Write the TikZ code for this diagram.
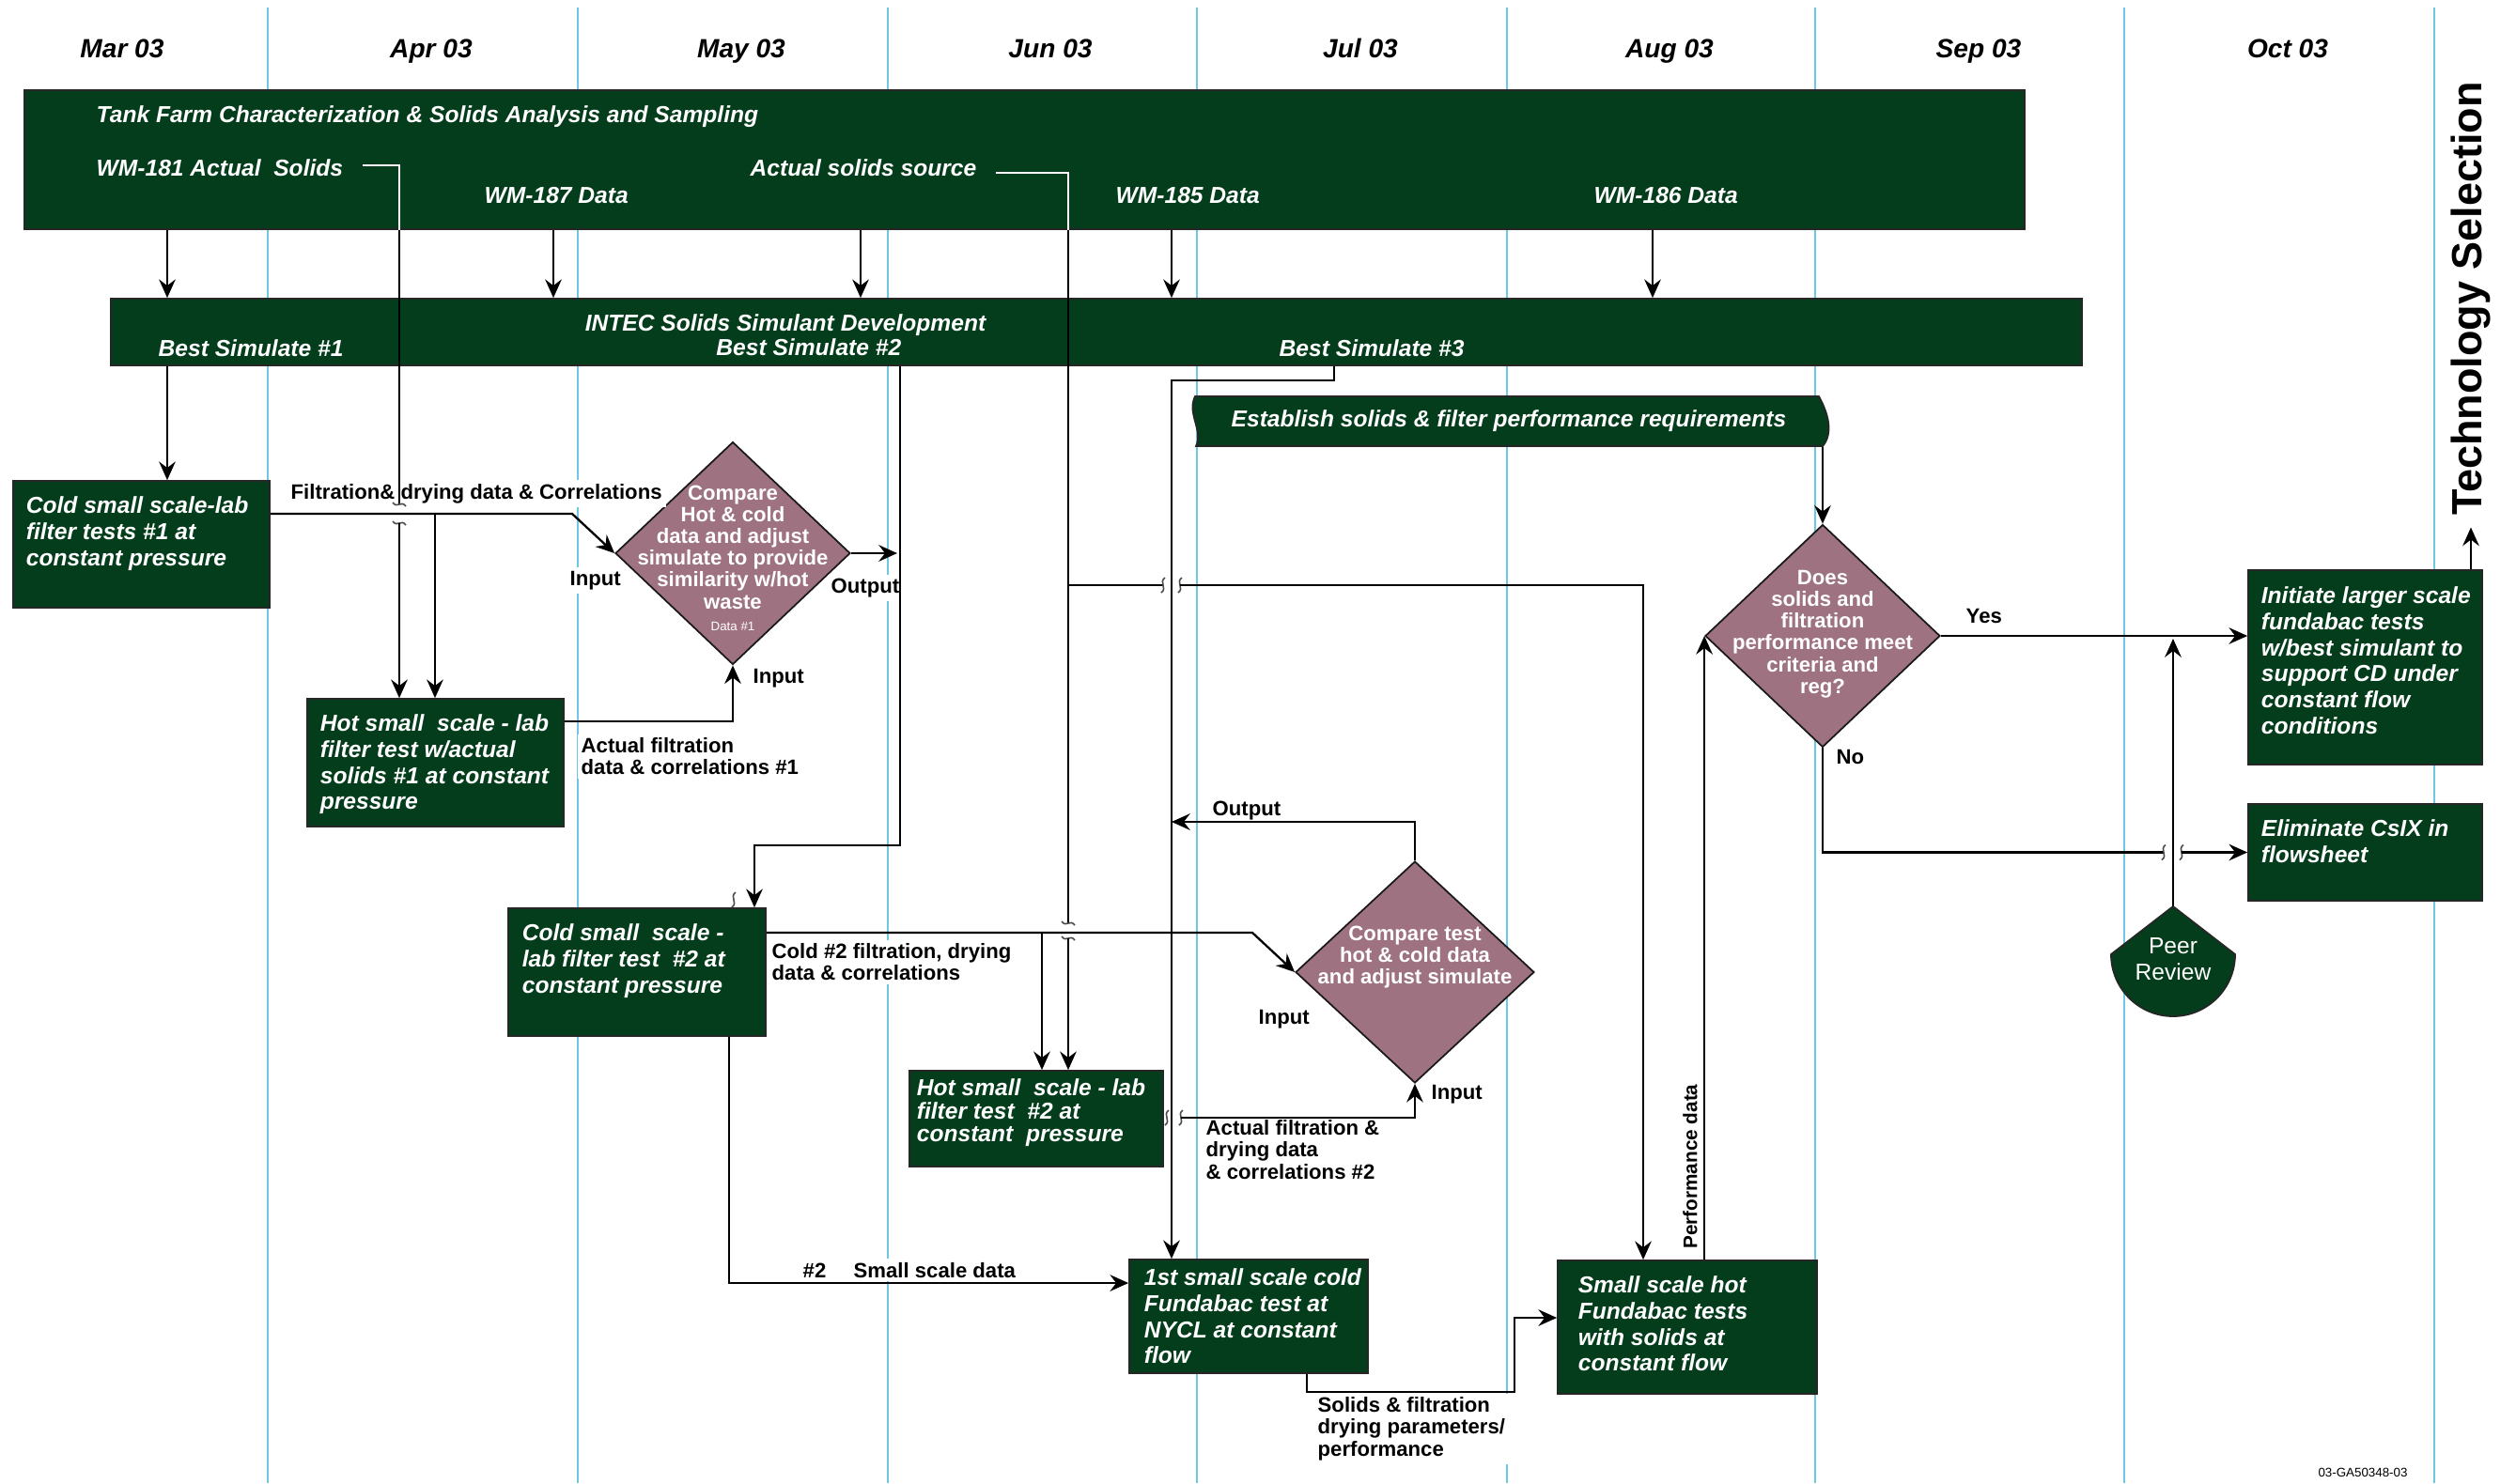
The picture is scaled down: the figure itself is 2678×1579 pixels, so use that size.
\documentclass[tikz,border=0pt]{standalone}
\usepackage{fontspec}
\setmainfont{Liberation Sans}
\usetikzlibrary{shapes.geometric,arrows.meta}
\definecolor{dkg}{RGB}{3,61,27}
\definecolor{mauve}{RGB}{158,114,128}
\definecolor{gridblue}{RGB}{110,200,228}
\tikzset{
  gridln/.style={draw=gridblue, line width=0.75pt},
  barbox/.style={fill=dkg, draw=black!85, line width=0.5pt, inner sep=0},
  gbox/.style={barbox},
  dia/.style={diamond, fill=mauve, draw=black!90, line width=0.5pt, inner sep=0},
  wt/.style={text=white, font=\fontsize{7}{7.9}\selectfont\bfseries\itshape, inner sep=0, align=left},
  wtl/.style={wt, anchor=base west},
  dt/.style={text=white, font=\fontsize{6.3}{6.6}\selectfont\bfseries, inner sep=0, align=center},
  lbl/.style={font=\fontsize{6.3}{6.6}\selectfont\bfseries, fill=white, inner sep=0.4mm, align=left},
  mon/.style={font=\fontsize{8}{9}\selectfont\bfseries\itshape, anchor=base, inner sep=0},
  conn/.style={draw=black, line width=0.65pt},
  arr/.style={conn, -{Stealth[length=5.6pt, width=5pt, inset=1.9pt]}},
  wline/.style={draw=white, line width=0.65pt},
  sq/.style={draw=black!70, line width=0.45pt},
  vsq/.pic={\draw[sq] (2,-8) .. controls (-5,-3) and (5,3) .. (-2,8);},
  hsq/.pic={\draw[sq] (-7,-2) .. controls (-2,5) and (2,-5) .. (7,2);},
}
\begin{document}
\begin{tikzpicture}[x=0.1mm, y=-0.1mm]
\fill[white] (0,0) rectangle (2678,1579);
\useasboundingbox (0,0) rectangle (2678,1579);

% month grid
\foreach \gx in {285,615,945,1274,1604,1932,2261,2591}
  \draw[gridln] (\gx,8) -- (\gx,1579);
\foreach \mx/\mt [count=\i] in {130/Mar 03,459/Apr 03,789/May 03,1118/Jun 03,1448/Jul 03,1777/Aug 03,2106/Sep 03,2435/Oct 03}
  \node[mon] (mon\i) at (\mx,61) {\mt};

% bars
\node[barbox, minimum width=212.9mm, minimum height=14.8mm] (tank) at (1090.5,170) {};
\node[barbox, minimum width=209.8mm, minimum height=7.1mm] (intec) at (1167,353.5) {};

% process boxes
\node[gbox, minimum width=27.3mm, minimum height=13.5mm] (cold1) at (150.5,579.5) {};
\node[gbox, minimum width=27.3mm, minimum height=13.6mm] (hot1) at (463.5,812) {};
\node[gbox, minimum width=27.4mm, minimum height=13.6mm] (cold2) at (678,1035) {};
\node[gbox, minimum width=27.0mm, minimum height=10.2mm] (hot2) at (1103,1191) {};
\node[gbox, minimum width=25.4mm, minimum height=12.1mm] (first) at (1329,1401.5) {};
\node[gbox, minimum width=27.6mm, minimum height=14.2mm] (hothot) at (1796,1413) {};
\node[gbox, minimum width=24.9mm, minimum height=20.7mm] (init) at (2517.5,710.5) {};
\node[gbox, minimum width=24.9mm, minimum height=10.3mm] (elim) at (2517.5,907.5) {};

% decisions
\node[dia, minimum width=25mm, minimum height=23.7mm] (d1) at (780,589) {};
\node[dia, minimum width=25.4mm, minimum height=23.6mm] (d2) at (1506,1035) {};
\node[dia, minimum width=25mm, minimum height=23.7mm] (d3) at (1940,677) {};

% requirements banner
\filldraw[fill=dkg, draw=black!85, line width=0.5pt]
  (1272,422) .. controls (1263,440) and (1281,458) .. (1273,475)
  -- (1940,475) .. controls (1951,462) and (1947,442) .. (1936,422) -- cycle;
\node[wt, anchor=center, minimum width=66.6mm, minimum height=5.3mm, align=center] (estab) at (1606,448.5)
  {Establish solids \& filter performance requirements};

% peer review
\coordinate (peerapex) at (2313,965);
\filldraw[fill=dkg, draw=black!85, line width=0.5pt]
  (peerapex) -- (2247,1016) arc[start angle=180, end angle=0, radius=66] -- cycle;
\node[text=white, font=\fontsize{7}{8}\selectfont, align=center, inner sep=0] (peer) at (2313,1021) {Peer\\Review};

% connector labels
\node[lbl, anchor=base west] (filt) at (305,531) {Filtration\& drying data \& Correlations};
\node[lbl, anchor=base west] (inp1) at (602,623) {Input};
\node[lbl, anchor=base west] (out1) at (880,631) {Output};
\node[lbl, anchor=base west] (inp1b) at (797,727) {Input};
\node[lbl, anchor=north west] (act1) at (614,781) {Actual filtration\\data \& correlations \#1};
\node[lbl, anchor=north west] (c2l) at (817,1000) {Cold \#2 filtration, drying\\data \& correlations};
\node[lbl, anchor=base west] (out2) at (1286,868) {Output};
\node[lbl, anchor=base west] (inp2) at (1335,1090) {Input};
\node[lbl, anchor=base west] (inp2b) at (1519,1170) {Input};
\node[lbl, anchor=north west] (act2) at (1279,1188) {Actual filtration \&\\drying data\\\& correlations \#2};
\node[lbl, anchor=base west] (n2) at (850,1360) {\#2};
\node[lbl, anchor=base west] (ssd) at (904,1360) {Small scale data};
\node[lbl, anchor=north west] (sol) at (1398,1483) {Solids \& filtration\\drying parameters/\\performance};
\node[lbl, anchor=base west] (yes) at (2088,663) {Yes};
\node[lbl, anchor=base west] (no) at (1950,813) {No};
\node[lbl, font=\fontsize{5.9}{6}\selectfont\bfseries, rotate=90] (perf) at (1799,1242) {Performance data};
\node[font=\fontsize{12.8}{14}\selectfont\bfseries, rotate=90, inner sep=0] (tech) at (2630,318) {Technology Selection};
\node[font=\fontsize{3.8}{4}\selectfont, inner sep=0] (code) at (2515,1568) {03-GA50348-03};

% texts in the bars
\node[wtl] (tanktitle) at (102,130) {Tank Farm Characterization \& Solids Analysis and Sampling};
\node[wtl] (wm181) at (102,187) {WM-181 Actual\ \ Solids};
\node[wtl] (wm187) at (515,216) {WM-187 Data};
\node[wtl] (srctxt) at (798,187) {Actual solids source};
\node[wtl] (wm185) at (1187,216) {WM-185 Data};
\node[wtl] (wm186) at (1696,216) {WM-186 Data};
\node[wt, anchor=base] (inteclbl) at (836,352) {INTEC Solids Simulant Development};
\node[wtl] (bs1) at (168,379) {Best Simulate \#1};
\node[wt, anchor=base east] (bs2) at (960,378) {Best Simulate \#2};
\node[wtl] (bs3) at (1361,379) {Best Simulate \#3};

% texts in the boxes
\node[wt, anchor=north west] (cold1t) at ([shift={(14,17)}]cold1.north west)
  {Cold small scale-lab\\filter tests \#1 at\\constant pressure};
\node[wt, anchor=north west] (hot1t) at ([shift={(14,17)}]hot1.north west)
  {Hot small\ \ scale - lab\\filter test w/actual\\solids \#1 at constant\\pressure};
\node[wt, anchor=north west] (cold2t) at ([shift={(15,17)}]cold2.north west)
  {Cold small\ \ scale -\\lab filter test\ \ \#2 at\\constant pressure};
\node[wt, anchor=north west, font=\fontsize{7}{7}\selectfont\bfseries\itshape] (hot2t) at ([shift={(8,9)}]hot2.north west)
  {Hot small\ \ scale - lab\\filter test\ \ \#2 at\\constant\ \ pressure};
\node[wt, anchor=north west] (firstt) at ([shift={(16,10)}]first.north west)
  {1st small scale cold\\Fundabac test at\\NYCL at constant\\flow};
\node[wt, anchor=north west] (hothott) at ([shift={(22,17)}]hothot.north west)
  {Small scale hot\\Fundabac tests\\with solids at\\constant flow};
\node[wt, anchor=north west] (initt) at ([shift={(14,18)}]init.north west)
  {Initiate larger scale\\fundabac tests\\w/best simulant to\\support CD under\\constant flow\\conditions};
\node[wt, anchor=north west] (elimt) at ([shift={(14,17)}]elim.north west)
  {Eliminate CsIX in\\flowsheet};

% texts in the decisions
\node[dt] (d1t) at (780,594) {Compare\\Hot \& cold\\data and adjust\\simulate to provide\\similarity w/hot\\waste\\{\fontsize{3.8}{4.5}\selectfont\mdseries Data \#1}};
\node[dt] (d2t) at (1506,1019) {Compare test\\hot \& cold data\\and adjust simulate};
\node[dt] (d3t) at (1940,675) {Does\\solids and\\filtration\\performance meet\\criteria and\\reg?};

% ---------- connectors ----------
% data feeds from the characterization bar
\foreach \fx in {178,589,916,1247,1759}
  \draw[arr] (\fx,0 |- tank.south) -- (\fx,0 |- intec.north);

% WM-181 actual solids to hot test #1
\coordinate (w181a) at (386,176);
\draw[wline] (w181a) -- (425,176) -- (425,0 |- tank.south);
\draw[conn] (425,0 |- tank.south) -- (425,537);
\pic at (425,537) {hsq};
\pic at (425,557) {hsq};
\draw[arr] (425,557) -- (425,0 |- hot1.north);

% actual solids source to hot test #2 and hot fundabac
\coordinate (srca) at (1060,184);
\draw[wline] (srca) -- (1137,184) -- (1137,0 |- tank.south);
\draw[conn] (1137,0 |- tank.south) -- (1137,983);
\pic at (1137,983) {hsq};
\pic at (1137,999) {hsq};
\draw[arr] (1137,999) -- (1137,0 |- hot2.north);
\draw[conn] (1137,623) -- (1238,623);
\pic at (1238,623) {vsq};
\pic at (1256,623) {vsq};
\draw[arr] (1256,623) -- (1749,623) -- (1749,0 |- hothot.north);

% best simulates
\draw[arr] (178,0 |- intec.south) -- (178,0 |- cold1.north);
\draw[arr] (958,0 |- intec.south) -- (958,900) -- (803,900) -- (803,0 |- cold2.north);
\pic at (781,958) {vsq};
\draw[arr] (1420,0 |- intec.south) -- (1420,405) -- (1247,405) -- (1247,0 |- first.north);

% first comparison
\draw[arr] (cold1.east |- 0,547) -- (609,547) -- (d1.west);
\draw[arr] (463,547) -- (463,0 |- hot1.north);
\coordinate (d1o) at (955,589);
\draw[arr] (d1.east) -- (d1o);
\draw[arr] (hot1.east |- 0,768) -- (d1.south |- 0,768) -- (d1.south);

% second comparison
\draw[arr] (cold2.east |- 0,993) -- (1333,993) -- (d2.west);
\draw[arr] (1109,993) -- (1109,0 |- hot2.north);
\pic at (1242,1190) {vsq};
\pic at (1257,1190) {vsq};
\draw[arr] (1257,1190) -- (d2.south |- 0,1190) -- (d2.south);
\draw[arr] (d2.north) -- (d2.north |- 0,875) -- (1247,875);

% fundabac tests
\draw[arr] (776,0 |- cold2.south) -- (776,1366) -- (first.west |- 0,1366);
\draw[arr] (1391,0 |- first.south) -- (1391,1482) -- (1612,1482) -- (1612,1403) -- (hothot.west |- 0,1403);
\draw[arr] (d3.west |- hothot.north) -- (d3.west);

% final decision
\draw[arr] (d3.north |- estab.south) -- (d3.north);
\draw[arr] (d3.east) -- (d3.east -| init.west);
\draw[conn] (d3.south) -- (d3.south |- elim.west) -- (2303,0 |- elim.west);
\pic at (2303,907.5) {vsq};
\pic at (2322,907.5) {vsq};
\draw[arr] (2322,0 |- elim.west) -- (elim.west);
\draw[arr, shorten >=0.3mm] (peerapex) -- (peerapex |- d3.east);
\draw[arr] (tech.west |- init.north) -- ([yshift=-1.2mm]tech.west);
\end{tikzpicture}
\end{document}
